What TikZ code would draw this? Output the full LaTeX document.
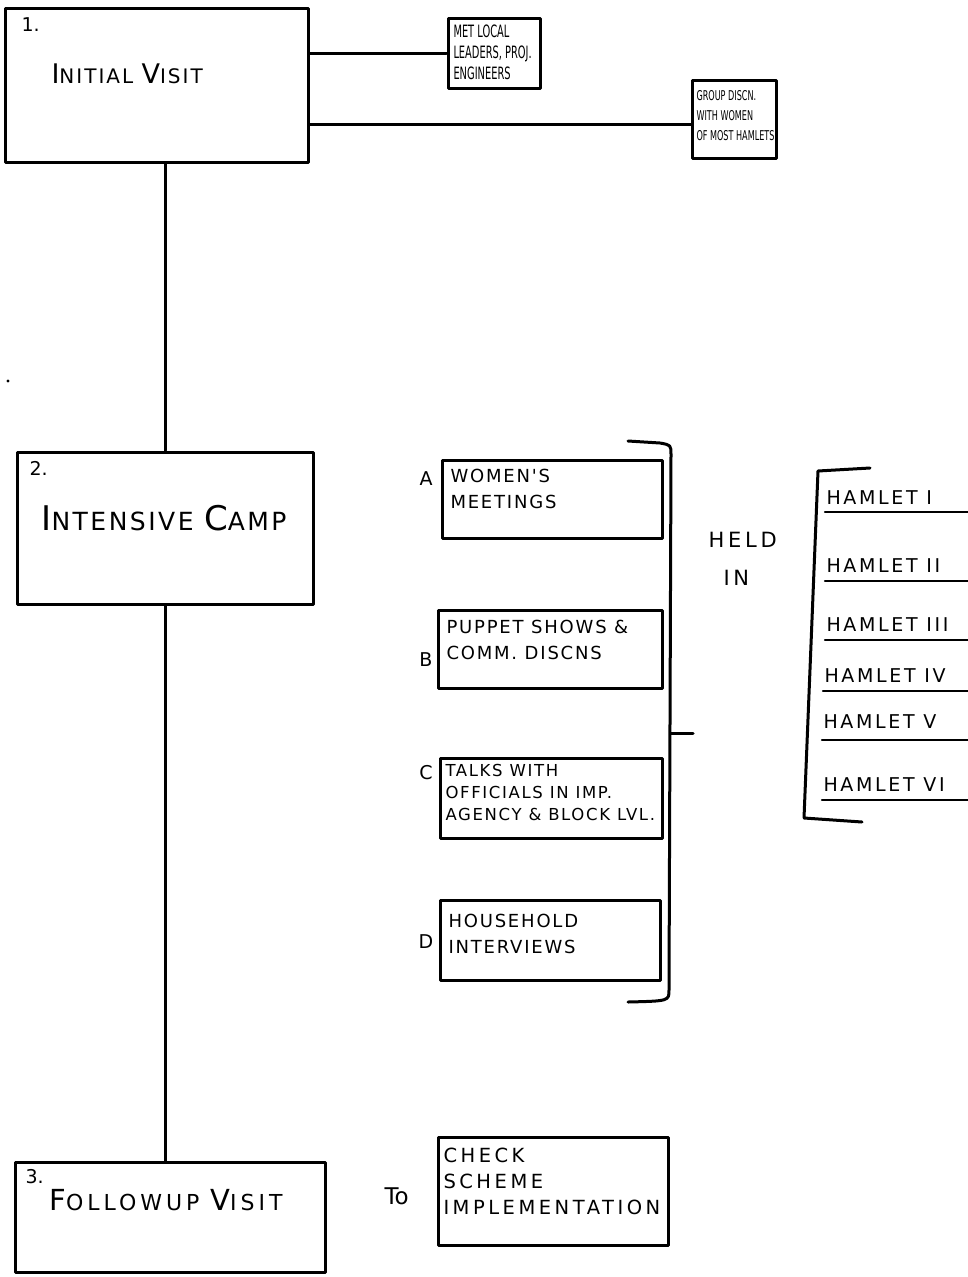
\documentclass[tikz,border=0pt]{standalone}
\usepackage{fontspec}
\setmainfont{DejaVu Sans}
\newfontfamily\narrowfont{DejaVu Sans}[FakeStretch=0.58]
\newfontfamily\grpfont{DejaVu Sans}[FakeStretch=0.6]
\newfontfamily\widefont{DejaVu Sans}[LetterSpace=10]
\newfontfamily\widerfont{DejaVu Sans}[LetterSpace=18]
\newfontfamily\hamfont{DejaVu Sans}[LetterSpace=14]
\newcommand{\fs}[1]{\fontsize{#1}{#1}\selectfont}
\begin{document}
\begin{tikzpicture}[x=1pt,y=-1pt,line width=3pt,line join=round,line cap=round,
  box/.style={draw,inner sep=0pt,rectangle},
  txt/.style={inner sep=0pt,anchor=west,align=left},
  small/.style={txt,font=\narrowfont\fontsize{17}{21}\selectfont},
  act/.style={txt,font=\widefont\fontsize{18}{26}\selectfont},
  lbl/.style={inner sep=0pt,font=\fs{19}},
  ham/.style={txt,font=\hamfont\fs{19}},
  conn/.style={draw,line width=3pt}]
\path[use as bounding box,fill=white] (0,0) rectangle (968,1277);

% main stage boxes
\node[box,minimum width=303pt,minimum height=154pt] (b1) at (156.5,85) {};
\node[box,minimum width=296pt,minimum height=152pt] (b2) at (165,528) {};
\node[box,minimum width=310pt,minimum height=110pt] (b3) at (170,1217) {};

\node[lbl,anchor=north west] (n1) at (20,16) {1.};
\node[txt] (t1) at (50,74) {\widefont\fs{27}I\fs{20}NITIAL \fs{27}V\fs{20}ISIT};
\node[lbl,anchor=north west] (n2) at (28,460) {2.};
\node[txt] (t2) at (40,518) {\widefont\fs{34}I\fs{25}NTENSIVE \fs{34}C\fs{25}AMP};
\node[lbl,anchor=north west] (n3) at (24,1168) {3.};
\node[txt] (t3) at (48,1200) {\widerfont\fs{29}F\fs{22}OLLOWUP \fs{29}V\fs{22}ISIT};

% side boxes of stage 1
\node[box,minimum width=92pt,minimum height=70pt] (met) at (494,53) {};
\node[small,anchor=north west] (mett) at (452,23) {MET LOCAL\\LEADERS, PROJ.\\ENGINEERS};
\node[box,minimum width=84pt,minimum height=78pt] (grp) at (734,119) {};
\node[txt,anchor=north west,font=\grpfont\fontsize{13.5}{20}\selectfont] (grpt) at (695,89) {GROUP DISCN.\\WITH WOMEN\\OF MOST HAMLETS};

\draw[conn] (met.west) -- (met.west -| b1.east);
\coordinate (g1) at (692,124);
\draw[conn] (g1) -- (g1 -| b1.east);

% vertical connectors
\draw[conn] (b2.north) -- (b2.north |- b1.south);
\draw[conn] (b2.south) -- (b2.south |- b3.north);

% activities
\node[box,minimum width=220pt,minimum height=78pt] (ba) at (552,499) {};
\node[act,anchor=north west] (ta) at (449,468) {WOMEN'S\\MEETINGS};
\node[lbl] (la) at (426,479) {A};

\node[box,minimum width=224pt,minimum height=78pt] (bb) at (550,649) {};
\node[act,anchor=north west] (tb) at (445,619) {PUPPET SHOWS \&\\COMM. DISCNS};
\node[lbl] (lb) at (426,660) {B};

\node[box,minimum width=222pt,minimum height=80pt] (bc) at (551,798) {};
\node[txt,anchor=north west,font=\widefont\fontsize{16.5}{22}\selectfont] (tc) at (444,763) {TALKS WITH\\OFFICIALS IN IMP.\\AGENCY \& BLOCK LVL.};
\node[lbl] (lc) at (426,773) {C};

\node[box,minimum width=220pt,minimum height=80pt] (bd) at (550,940) {};
\node[act,anchor=north west] (td) at (447,913) {HOUSEHOLD\\INTERVIEWS};
\node[lbl] (ld) at (426,942) {D};

% right bracket
\coordinate (r1) at (628,441);
\coordinate (r2) at (671,455);
\coordinate (r3) at (669,990);
\coordinate (r4) at (628,1002);
\coordinate (rt) at (693,733);
\draw[conn] (r1) -- (660,443) .. controls (671,445) .. (r2) -- (r3) .. controls (669,1001) .. (r4);
\draw[conn] (rt) -- (rt -| r2);

\node[txt,font=\widerfont\fs{21}] (held) at (707,540) {HELD};
\node[txt,font=\widerfont\fs{21}] (in) at (722,578) {IN};

% hamlet list bracket
\coordinate (h0) at (870,468);
\coordinate (hc1) at (818,471);
\coordinate (hc2) at (804,818);
\coordinate (h7) at (862,822);
\draw[conn] (h0) -- (hc1) -- (hc2) -- (h7);
\coordinate (redge) at (968,0);

\node[ham] (hm1) at (825,498) {HAMLET I};
\node[ham] (hm2) at (825,566) {HAMLET II};
\node[ham] (hm3) at (825,625) {HAMLET III};
\node[ham] (hm4) at (823,676) {HAMLET IV};
\node[ham] (hm5) at (822,722) {HAMLET V};
\node[ham] (hm6) at (822,785) {HAMLET VI};
\foreach \h/\y in {hm1/512,hm2/581,hm3/640,hm4/691,hm5/740,hm6/800}{
  \coordinate (u\h) at (\h.west |- 0,\y);
  \draw[line width=2.4pt] (u\h) -- (u\h -| redge);
}

% follow-up target
\node[box,minimum width=230pt,minimum height=108pt] (chk) at (553,1191) {};
\node[txt,anchor=north west,font=\widerfont\fontsize{19.5}{26}\selectfont] (chkt) at (442,1147) {CHECK\\SCHEME\\IMPLEMENTATION};
\node[txt,font=\fs{23}] (to) at (383,1196) {To};

% stray speck
\fill (8,381) circle (1.6pt);
\end{tikzpicture}
\end{document}
